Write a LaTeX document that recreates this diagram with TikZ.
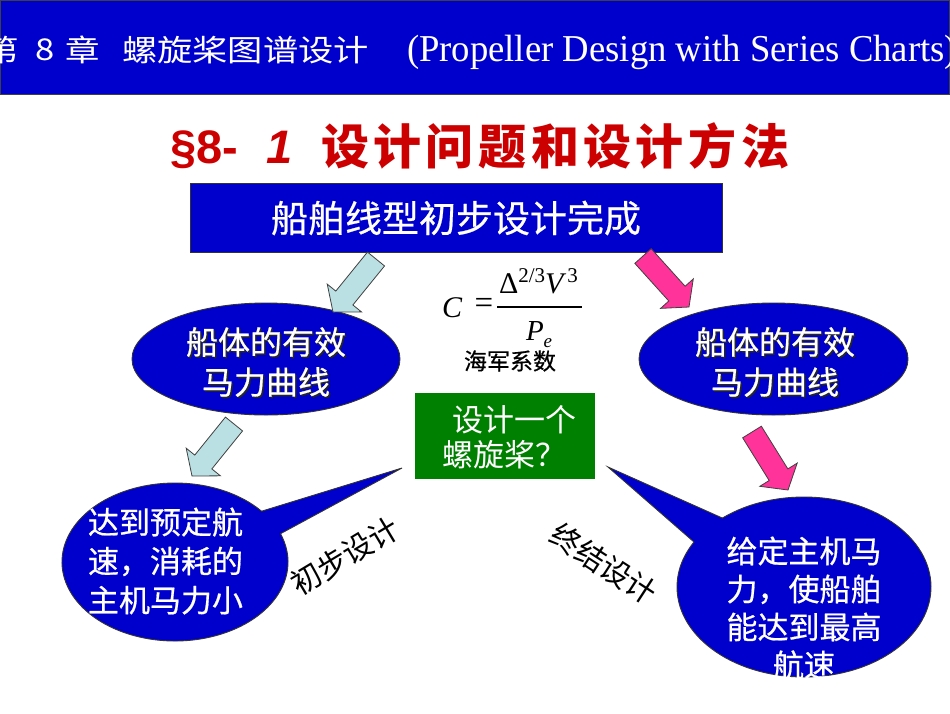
\documentclass[tikz,border=0pt]{standalone}
\usepackage{fontspec}
\usepackage{graphicx}
\setmainfont{Noto Sans CJK SC}
\newfontfamily\cjk{Noto Sans CJK SC}
\newfontfamily\cjkm[FakeBold=0.6]{Noto Sans CJK SC}
\newfontfamily\tnr{Liberation Serif}
\newfontfamily\lsans{Liberation Sans}
\usetikzlibrary{calc,shapes.geometric}
\newcommand\fsz[2]{\fontsize{#1pt}{#2pt}\selectfont}
\newcommand\tk{\kern4.5pt}
\definecolor{bannerblue}{RGB}{0,0,204}
\definecolor{titlered}{RGB}{204,0,0}
\definecolor{boxgreen}{RGB}{0,128,0}
\definecolor{arrowcyan}{RGB}{187,224,227}
\definecolor{arrowpink}{RGB}{255,51,153}
\newcommand\blockarrow[3]{%
  \coordinate (#2h) at ($(#3)!18pt!(#2)$);
  \path[#1] ($(#2)!11pt!90:(#3)$) -- ($(#2h)!11pt!90:(#3)$) -- ($(#2h)!22pt!90:(#3)$) -- (#3)
     -- ($(#2h)!22pt!-90:(#3)$) -- ($(#2h)!11pt!-90:(#3)$) -- ($(#2)!11pt!-90:(#3)$) -- cycle;}
\begin{document}
\begin{tikzpicture}[x=1pt,y=-1pt,
  every node/.style={inner sep=0pt, outer sep=0pt},
  arrowc/.style={fill=arrowcyan, draw=black!75, line width=0.8pt},
  arrowp/.style={fill=arrowpink, draw=black!75, line width=0.8pt},
  bluefill/.style={fill=bannerblue, draw=black!80, line width=0.9pt},
  bantext/.style={text=white, font=\cjk\fsz{30}{30}},
  elltext/.style={text=white, font=\cjkm\fsz{32}{40}, align=center},
  gtext/.style={text=white, font=\cjk\fsz{31}{31}},
  btext/.style={text=white, font=\cjkm\fsz{31}{39}},
  rlabel/.style={text=black, font=\cjk\fsz{30}{30}}]
\useasboundingbox (0,0) rectangle (950,713);
\fill[white] (0,0) rectangle (950,713);
% banner
\node[fill=bannerblue, draw=black!75, line width=1pt, minimum width=949, minimum height=94, anchor=north west] (banner) at (0.5,0.5) {};
\node[bantext, anchor=east] (b1) at (19,50) {\scalebox{1.15}[1]{第}};
\node[bantext] (b2) at (45,50) {\scalebox{1.15}[1]{8}};
\node[bantext] (b3) at (83,50) {\scalebox{1.15}[1]{章}};
\node[bantext] (b4) at (245.5,50) {\resizebox{247pt}{\height}{螺旋桨图谱设计}};
\node[text=white, font=\tnr\fsz{38}{38}, anchor=base] (b5) at (682,61) {\resizebox{550pt}{\height}{(Propeller Design with Series Charts)}};
% title
\node[text=titlered, font=\lsans\bfseries\fsz{47}{47}, anchor=base west] (t1) at (170,163) {§8-};
\node[text=titlered, font=\lsans\bfseries\itshape\fsz{47}{47}, anchor=base west] (t2) at (266,163) {1};
\node[text=titlered, font=\cjk\bfseries\fsz{48}{48}, anchor=west] (t3) at (321,146) {设\tk 计\tk 问\tk 题\tk 和\tk 设\tk 计\tk 方\tk 法};
% top box
\node[bluefill, minimum width=532, minimum height=69, text=white, font=\cjkm\fsz{37}{37}] (topbox) at (456,218) {船舶线型初步设计完成};
% ellipses
\node[ellipse, bluefill, minimum width=268, minimum height=112] (ellL) at (266,359) {};
\node[ellipse, bluefill, minimum width=269, minimum height=112] (ellR) at (773.5,359) {};
\node[elltext, text=black!85] (ellLs) at (267.5,363.5) {船体的有效\\马力曲线};
\node[elltext] (ellLt) at (266,362) {船体的有效\\马力曲线};
\node[elltext, text=black!85] (ellRs) at (776.5,363.5) {船体的有效\\马力曲线};
\node[elltext] (ellRt) at (775,362) {船体的有效\\马力曲线};
% formula
\node[font=\tnr\itshape\fsz{30}{30}] (fC) at (452,307.5) {C};
\node[font=\tnr\fsz{33}{33}] (feq) at (484,306) {=};
\coordinate (fbarL) at (497,307);
\coordinate (fbarR) at (582,307);
\draw[line width=1.2pt] (fbarL) -- (fbarR);
\node[font=\tnr\fsz{30}{30}, anchor=base west] (fnum) at (499,293) {Δ\raisebox{11pt}{\fsz{21}{21}2/3}\textit{V}\kern1pt\raisebox{11pt}{\fsz{21}{21}3}};
\node[font=\tnr\fsz{29}{29}, anchor=base west] (fden) at (526,340) {\textit{P}\raisebox{-7pt}{\fsz{19}{19}\textit{e}}};
\node[font=\cjkm\fsz{23}{23}] (navy) at (510,361) {海军系数};
% green box
\node[fill=boxgreen, minimum width=180, minimum height=86] (gbox) at (505,436) {};
\node[gtext, anchor=west] (g1) at (452,420) {设计一个};
\node[gtext, anchor=west] (g2) at (442,455) {螺旋桨？};
% bubbles
\coordinate (bLc) at (175,562);
\coordinate (bLtip) at (402,468);
\path[bluefill] ($(bLc)+(-40:113 and 79)$) -- (bLtip) -- ($(bLc)+(-21:113 and 79)$) arc[start angle=-21, end angle=320, x radius=113, y radius=79] -- cycle;
\coordinate (bRc) at (804,587);
\coordinate (bRtip) at (608,467);
\path[bluefill] ($(bRc)+(210:127 and 90)$) -- (bRtip) -- ($(bRc)+(230:127 and 90)$) arc[start angle=230, end angle=570, x radius=127, y radius=90] -- cycle;
\node[btext, align=left, anchor=west] (bLt) at (88,561) {达到预定航\\速，消耗的\\主机马力小};
\node[btext, align=center, font=\cjkm\fsz{31}{38}] (bRt) at (804,608) {给定主机马\\力，使船舶\\能达到最高\\航速};
% arrows
\coordinate (L1t) at (376,259); \coordinate (L1p) at (333,312);
\coordinate (L2t) at (234,424); \coordinate (L2p) at (192,476);
\coordinate (R1t) at (643,256); \coordinate (R1p) at (689,307);
\coordinate (R2t) at (752,432); \coordinate (R2p) at (788,490);
\blockarrow{arrowc}{L1t}{L1p}
\blockarrow{arrowc}{L2t}{L2p}
\blockarrow{arrowp}{R1t}{R1p}
\blockarrow{arrowp}{R2t}{R2p}
% rotated labels
\node[rlabel, rotate=31] (lab1) at (345,556) {初步设计};
\node[rlabel, rotate=-33] (lab2) at (604,564) {终结设计};
\end{tikzpicture}
\end{document}
